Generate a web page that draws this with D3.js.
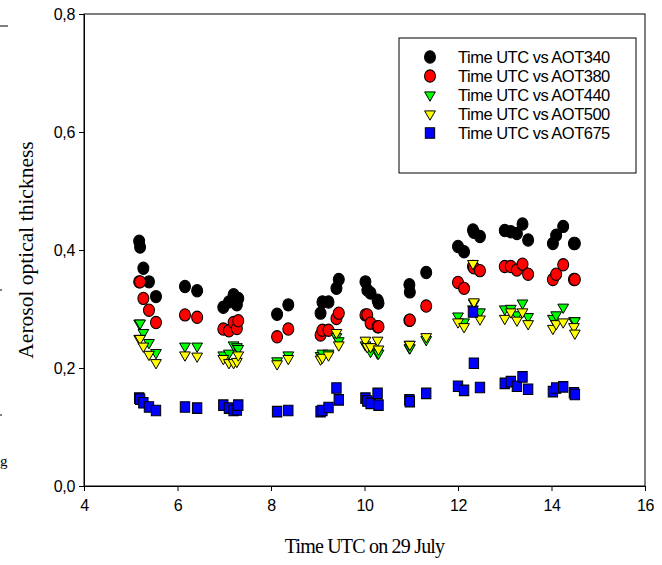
<!DOCTYPE html>
<html>
<head>
<meta charset="utf-8">
<script src="https://cdn.jsdelivr.net/npm/d3@7"></script>
<style>
    body { margin: 0; background: #fff; }
</style>
</head>
<body>
<div id="chart"></div>
<script>
// measurement times (UTC hours, 29 July)
var times = [
    5.18, 5.20, 5.27, 5.39, 5.54,
    6.16, 6.42,
    6.98, 7.10, 7.20, 7.27, 7.30,
    8.13, 8.37,
    9.06, 9.10, 9.23, 9.40, 9.45,
    10.02, 10.06, 10.13, 10.28, 10.30,
    10.96, 10.97, 11.32,
    12.00, 12.13, 12.32, 12.34, 12.47,
    13.00, 13.13, 13.26, 13.38, 13.50,
    14.03, 14.10, 14.25, 14.48, 14.50
];

var aot340 = [
    0.415, 0.405, 0.369, 0.346, 0.321,
    0.338, 0.331,
    0.303, 0.312, 0.324, 0.307, 0.318,
    0.291, 0.307,
    0.293, 0.312, 0.312, 0.335, 0.350,
    0.346, 0.332, 0.327, 0.315, 0.310,
    0.341, 0.329, 0.362,
    0.406, 0.397, 0.434, 0.430, 0.423,
    0.433, 0.431, 0.428, 0.444, 0.417,
    0.411, 0.425, 0.440, 0.411, 0.411
];

var aot380 = [
    0.346, 0.346, 0.318, 0.298, 0.277,
    0.290, 0.286,
    0.266, 0.263, 0.277, 0.267, 0.280,
    0.253, 0.266,
    0.256, 0.264, 0.264, 0.284, 0.293,
    0.290, 0.290, 0.276, 0.270, 0.270,
    0.281, 0.281, 0.305,
    0.345, 0.335, 0.372, 0.370, 0.365,
    0.372, 0.372, 0.366, 0.376, 0.359,
    0.350, 0.359, 0.375, 0.350, 0.350
];

var aot440 = [
    0.276, 0.276, 0.260, 0.243, 0.226,
    0.237, 0.237,
    0.222, 0.225, 0.239, 0.236, 0.233,
    0.212, 0.222,
    0.221, 0.225, 0.225, 0.253, 0.246,
    0.239, 0.236, 0.228, 0.225, 0.225,
    0.234, 0.234, 0.248,
    0.288, 0.278, 0.300, 0.310, 0.295,
    0.300, 0.301, 0.290, 0.310, 0.287,
    0.284, 0.290, 0.303, 0.280, 0.280
];

var aot500 = [
    0.250, 0.250, 0.237, 0.223, 0.209,
    0.222, 0.220,
    0.216, 0.209, 0.209, 0.211, 0.222,
    0.207, 0.216,
    0.215, 0.218, 0.222, 0.260, 0.239,
    0.247, 0.236, 0.236, 0.247, 0.232,
    0.240, 0.240, 0.253,
    0.278, 0.270, 0.377, 0.312, 0.283,
    0.284, 0.295, 0.281, 0.295, 0.275,
    0.267, 0.275, 0.278, 0.270, 0.259
];

var aot675 = [
    0.149, 0.147, 0.141, 0.134, 0.128,
    0.134, 0.132,
    0.137, 0.132, 0.128, 0.129, 0.137,
    0.126, 0.128,
    0.126, 0.128, 0.133, 0.166, 0.146,
    0.149, 0.144, 0.140, 0.157, 0.137,
    0.146, 0.143, 0.157,
    0.169, 0.162, 0.295, 0.208, 0.167,
    0.174, 0.177, 0.169, 0.185, 0.164,
    0.160, 0.166, 0.168, 0.158, 0.155
];

var seriesNames = ["Time UTC vs AOT340", "Time UTC vs AOT380", "Time UTC vs AOT440",
                   "Time UTC vs AOT500", "Time UTC vs AOT675"];
var seriesColors = ["#000000", "#ff0000", "#00ff00", "#ffff00", "#0000ff"];
var seriesShapes = ["circle", "circle", "triangle", "triangle", "square"];
var xTicks = [4, 6, 8, 10, 12, 14, 16];
var yTicks = [0, 0.2, 0.4, 0.6, 0.8];

var width = 662;
var height = 565;
// plot box (don't use "top" as a global name, it clashes with window.top)
var plotL = 84, plotR = 645, plotT = 14, plotB = 486;

var svg = d3.select("#chart")
    .append("svg")
    .attr("width", width)
    .attr("height", height);

var x = d3.scaleLinear().domain([4, 16]).range([plotL, plotR]);
var y = d3.scaleLinear().domain([0, 0.8]).range([plotB, plotT]);

// frame
svg.append("rect")
    .attr("x", plotL)
    .attr("y", plotT)
    .attr("width", plotR - plotL)
    .attr("height", plotB - plotT)
    .attr("fill", "none")
    .attr("stroke", "#000")
    .attr("stroke-width", 1);

var xAxis = svg.append("g")
    .attr("transform", "translate(0," + plotB + ")")
    .call(d3.axisBottom(x).tickValues(xTicks).tickSize(5).tickSizeOuter(0)
        .tickFormat(d3.format("d")));

var yAxis = svg.append("g")
    .attr("transform", "translate(" + plotL + ",0)")
    .call(d3.axisLeft(y).tickValues(yTicks).tickSize(5).tickSizeOuter(0)
        .tickFormat(function(d) { return d3.format(".1f")(d).replace(".", ","); }));

svg.selectAll(".domain").attr("stroke", "#000");
svg.selectAll(".tick line").attr("stroke", "#000");
svg.selectAll(".tick text")
    .attr("fill", "#000")
    .style("font-family", "'Liberation Sans', Arial, sans-serif")
    .style("font-size", "16px")
    .style("letter-spacing", "-0.3px");
xAxis.selectAll(".tick text").attr("y", 14);
yAxis.selectAll(".tick text").attr("x", -9);

// axis titles
svg.append("text")
    .attr("x", (plotL + plotR) / 2)
    .attr("y", 553)
    .attr("text-anchor", "middle")
    .style("font-family", "'Liberation Serif', 'Times New Roman', serif")
    .style("font-size", "20px")
    .style("letter-spacing", "-0.8px")
    .text("Time UTC on 29 July");

svg.append("text")
    .attr("transform", "translate(33,250) rotate(-90)")
    .attr("text-anchor", "middle")
    .style("font-family", "'Liberation Serif', 'Times New Roman', serif")
    .style("font-size", "21.5px")
    .text("Aerosol optical thickness");

function symbolPath(shape) {
    if (shape == "circle") return d3.symbol().type(d3.symbolCircle).size(95)();
    if (shape == "square") return d3.symbol().type(d3.symbolSquare).size(88)();
    return d3.symbol().type(d3.symbolTriangle).size(50)();
}

function symbolTransform(shape, px, py) {
    if (shape == "triangle") return "translate(" + px + "," + py + ") rotate(180)";
    return "translate(" + px + "," + py + ") scale(1,1.12)";
}

var allSeries = [aot340, aot380, aot440, aot500, aot675];

allSeries.forEach(function(vals, s) {
    var pts = times.map(function(t, i) { return [t, vals[i]]; });
    svg.append("g")
        .selectAll("path")
        .data(pts)
        .enter().append("path")
        .attr("d", symbolPath(seriesShapes[s]))
        .attr("transform", function(d) { return symbolTransform(seriesShapes[s], x(d[0]), y(d[1])); })
        .attr("fill", seriesColors[s])
        .attr("stroke", "#000")
        .attr("stroke-width", 1);
});

// legend
var legend = svg.append("g").attr("transform", "translate(399,38)");

legend.append("rect")
    .attr("width", 237)
    .attr("height", 135)
    .attr("fill", "#fff")
    .attr("stroke", "#000")
    .attr("stroke-width", 1);

var rows = legend.selectAll(".row")
    .data(seriesNames)
    .enter().append("g")
    .attr("class", "row")
    .attr("transform", function(d, i) { return "translate(0," + (19 + i * 19) + ")"; });

rows.append("path")
    .attr("d", function(d, i) { return symbolPath(seriesShapes[i]); })
    .attr("transform", function(d, i) { return symbolTransform(seriesShapes[i], 31, 0); })
    .attr("fill", function(d, i) { return seriesColors[i]; })
    .attr("stroke", "#000");

rows.append("text")
    .attr("x", 59)
    .attr("dy", "0.35em")
    .style("font-family", "'Liberation Sans', Arial, sans-serif")
    .style("font-size", "16.5px")
    .style("letter-spacing", "-0.5px")
    .text(function(d) { return d; });

// cut edge of the neighbouring figure
svg.append("line").attr("x1", 0).attr("x2", 8).attr("y1", 26).attr("y2", 26).attr("stroke", "#000");
svg.append("line").attr("x1", 0).attr("x2", 2).attr("y1", 290).attr("y2", 290).attr("stroke", "#000");
svg.append("line").attr("x1", 0).attr("x2", 2).attr("y1", 415).attr("y2", 415).attr("stroke", "#000");
svg.append("text")
    .attr("x", 0)
    .attr("y", 466)
    .style("font-family", "'Liberation Serif', serif")
    .style("font-size", "15px")
    .style("text-decoration", "underline")
    .text("g");
</script>
</body>
</html>
